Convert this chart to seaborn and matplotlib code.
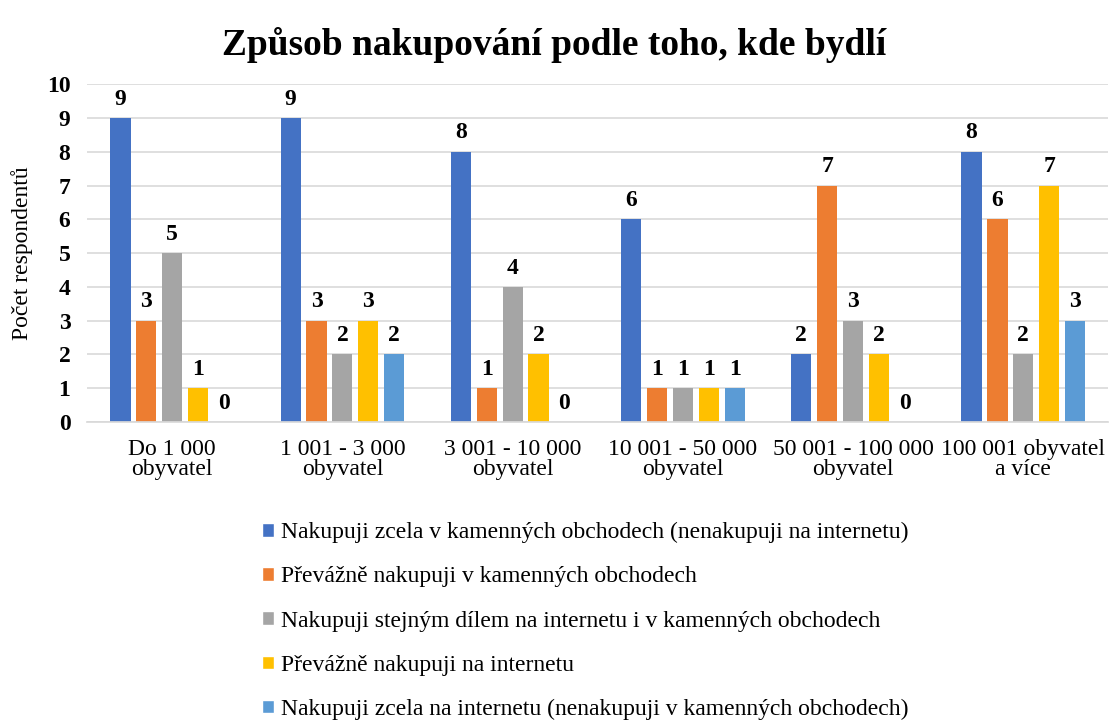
import pandas as pd
import matplotlib.pyplot as plt
import seaborn as sns
from matplotlib.patches import Patch

# data
categories = ['Do 1 000\nobyvatel', '1 001 - 3 000\nobyvatel', '3 001 - 10 000\nobyvatel',
              '10 001 - 50 000\nobyvatel', '50 001 - 100 000\nobyvatel', '100 001 obyvatel\na více']
series = [
    'Nakupuji zcela v kamenných obchodech (nenakupuji na internetu)',
    'Převážně nakupuji v kamenných obchodech',
    'Nakupuji stejným dílem na internetu i v kamenných obchodech',
    'Převážně nakupuji na internetu',
    'Nakupuji zcela na internetu (nenakupuji v kamenných obchodech)',
]
zcela_kamenne = [9, 9, 8, 6, 2, 8]
prevazne_kamenne = [3, 3, 1, 1, 7, 6]
stejne = [5, 2, 4, 1, 3, 2]
prevazne_internet = [1, 3, 2, 1, 2, 7]
zcela_internet = [0, 2, 0, 1, 0, 3]
colors = ['#4472C4', '#ED7D31', '#A5A5A5', '#FFC000', '#5B9BD5']

values = [zcela_kamenne, prevazne_kamenne, stejne, prevazne_internet, zcela_internet]
rows = []
for s, vals in zip(series, values):
    for c, v in zip(categories, vals):
        rows.append({'Kategorie': c, 'Způsob': s, 'Počet': v})
df = pd.DataFrame(rows)

sns.set_theme(style="white")
plt.rcParams['font.family'] = ['Liberation Serif', 'DejaVu Serif']

fig = plt.figure(figsize=(11.09, 7.2), dpi=100)
ax = fig.add_axes([0.0785, 0.414, 0.921, 0.469])

sns.barplot(data=df, x='Kategorie', y='Počet', hue='Způsob', order=categories,
            hue_order=series, palette=colors, saturation=1, width=0.76, gap=0.22,
            linewidth=0, legend=False, ax=ax)

# value labels above every bar (zeros included)
for cont in ax.containers:
    ax.bar_label(cont, fmt='%d', padding=6, fontsize=17, fontweight='bold', color='black')

ax.set_ylim(0, 10)
ax.set_xlim(-0.5, 5.5)
ax.set_yticks(range(0, 11))
ax.yaxis.grid(True, color='#D9D9D9', linewidth=1.2)
ax.set_axisbelow(True)
for sp in ['top', 'right', 'left']:
    ax.spines[sp].set_visible(False)
ax.spines['bottom'].set_color('#D9D9D9')
ax.tick_params(axis='y', length=0, pad=12, labelsize=17, labelcolor='black')
for lab in ax.get_yticklabels():
    lab.set_fontweight('bold')
ax.tick_params(axis='x', length=0, pad=12, labelsize=17, labelcolor='black')
for lab in ax.get_xticklabels():
    lab.set_linespacing(0.95)
ax.set_xlabel('')
ax.set_ylabel('Počet respondentů', fontsize=17, labelpad=10, color='black')

fig.suptitle('Způsob nakupování podle toho, kde bydlí', fontsize=27, fontweight='bold',
             y=0.962, color='black')

handles = [Patch(facecolor=c, label=s) for c, s in zip(colors, series)]
fig.legend(handles=handles, loc='upper left', bbox_to_anchor=(0.228, 0.288), frameon=False,
           fontsize=17, handlelength=0.5, handleheight=0.5, handletextpad=0.3,
           labelspacing=0.98, borderaxespad=0, labelcolor='black')

plt.savefig('out.png', dpi=100)
